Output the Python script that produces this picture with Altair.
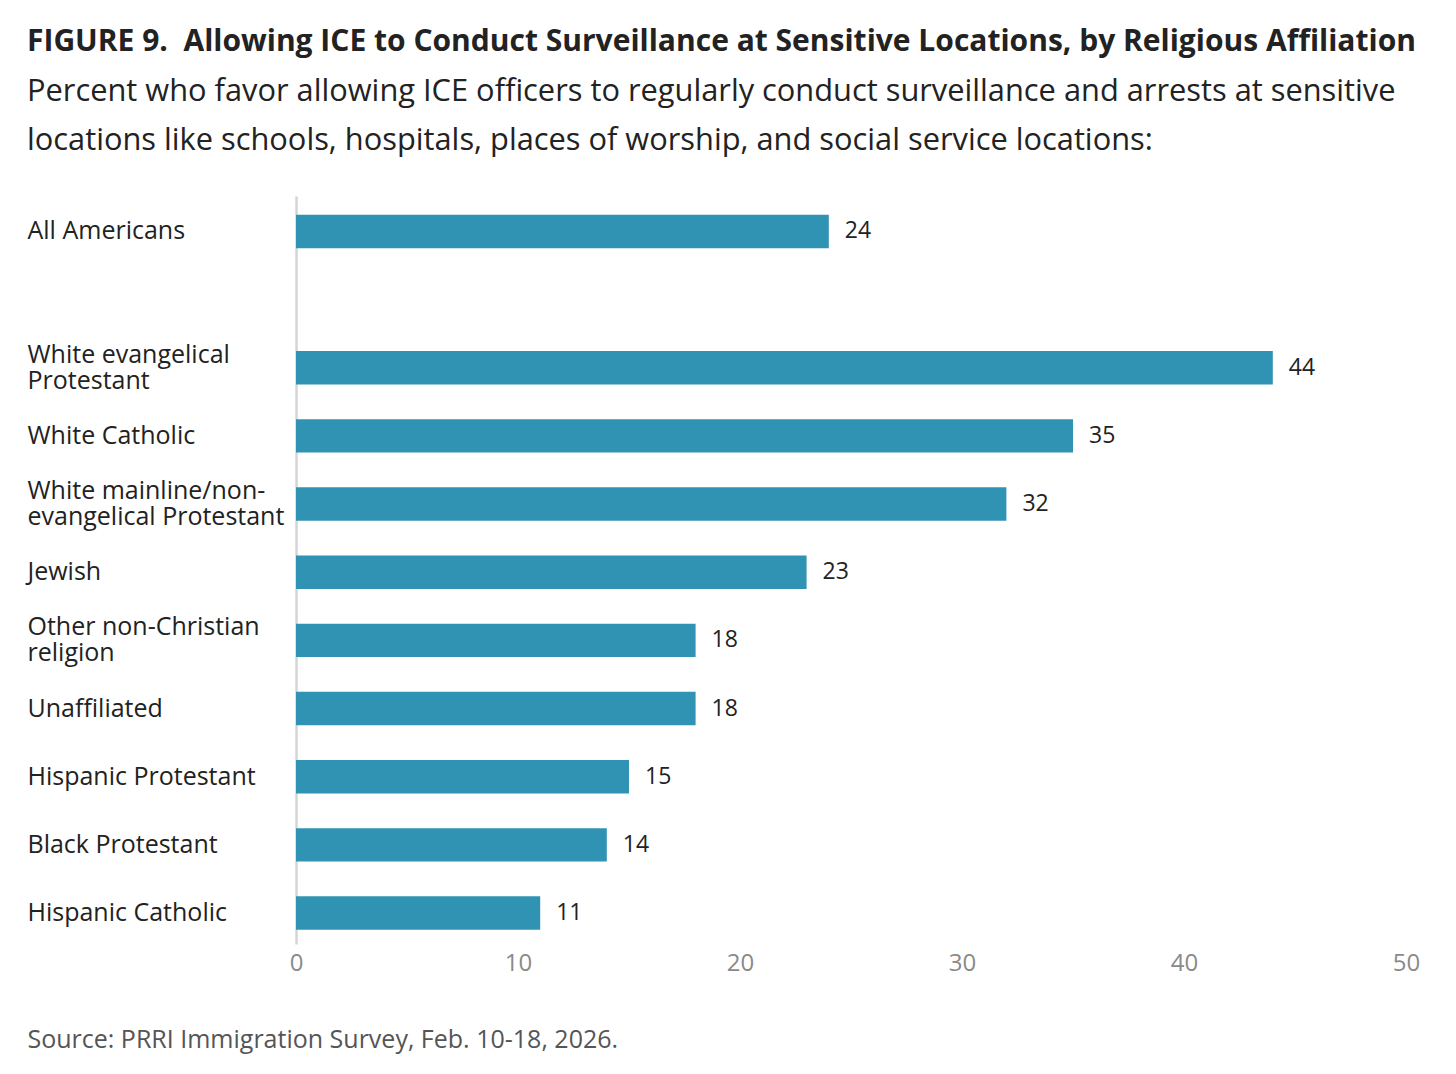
import altair as alt
import pandas as pd

categories = [
    "All Americans",
    "White evangelical\nProtestant",
    "White Catholic",
    "White mainline/non-\nevangelical Protestant",
    "Jewish",
    "Other non-Christian\nreligion",
    "Unaffiliated",
    "Hispanic Protestant",
    "Black Protestant",
    "Hispanic Catholic",
]
values = [24, 44, 35, 32, 23, 18, 18, 15, 14, 11]
x_ticks = [0, 10, 20, 30, 40, 50]

title_text = "FIGURE 9.\u00a0 Allowing ICE to Conduct Surveillance at Sensitive Locations, by Religious Affiliation"
subtitle_lines = [
    "Percent who favor allowing ICE officers to regularly conduct surveillance and arrests at sensitive",
    "locations like schools, hospitals, places of worship, and social service locations:",
]
source_text = "Source: PRRI Immigration Survey, Feb. 10-18, 2026."

df = pd.DataFrame({"group": categories, "value": values})
domain_order = [categories[0], " "] + categories[1:]

BAR = "#3193b3"

y_enc = alt.Y(
    "group:N",
    sort=domain_order,
    scale=alt.Scale(domain=domain_order, paddingInner=0.51, paddingOuter=0.2425, align=0.567),
    axis=alt.Axis(
        title=None,
        ticks=False,
        domain=True,
        domainColor="#d4d4d4",
        domainWidth=2.5,
        labelAlign="left",
        labelBaseline="middle",
        labelPadding=269,
        labelFontSize=25,
        labelColor="#222222",
        labelLimit=0,
        labelLineHeight=26,
        labelOffset={
            "condition": {"test": "indexof(datum.label, '\\n') >= 0", "value": -13},
            "value": 0,
        },
        labelExpr="split(datum.label, '\\n')",
    ),
)

x_enc = alt.X(
    "value:Q",
    scale=alt.Scale(domain=[0, 50], nice=False),
    axis=alt.Axis(
        values=x_ticks,
        grid=False,
        domain=False,
        ticks=False,
        labelFlush=False,
        labelColor="#8a8a8a",
        labelFontSize=24,
        labelPadding=7,
        title=source_text,
        titleX=-269,
        titleY=103,
        titleAlign="left",
        titleAnchor="start",
        titleBaseline="alphabetic",
        titleFontSize=25,
        titleFontWeight="normal",
        titleColor="#555555",
    ),
)

bars = alt.Chart(df).mark_bar(color=BAR).encode(x=x_enc, y=y_enc)
labels = alt.Chart(df).mark_text(
    align="left", baseline="middle", dx=16, fontSize=23, color="#222222"
).encode(x="value:Q", y=alt.Y("group:N", sort=domain_order), text="value:Q")

chart = (
    alt.layer(bars, labels)
    .properties(
        width=1110,
        height=748,
        padding={"left": 19, "top": 19, "right": 10, "bottom": 20},
        title=alt.Title(
            text=title_text,
            subtitle=subtitle_lines,
            anchor="start",
            frame="bounds",
            fontSize=30,
            fontWeight="bold",
            color="#222222",
            subtitleFontSize=30.8,
            subtitleColor="#222222",
            subtitleLineHeight=49,
            subtitlePadding=20,
            offset=40,
            font="Open Sans",
            subtitleFont="Open Sans",
        ),
    )
    .configure(font="Open Sans")
    .configure_view(stroke=None)
)

chart.save("out.html", embed_options={"renderer": "svg", "actions": False})
